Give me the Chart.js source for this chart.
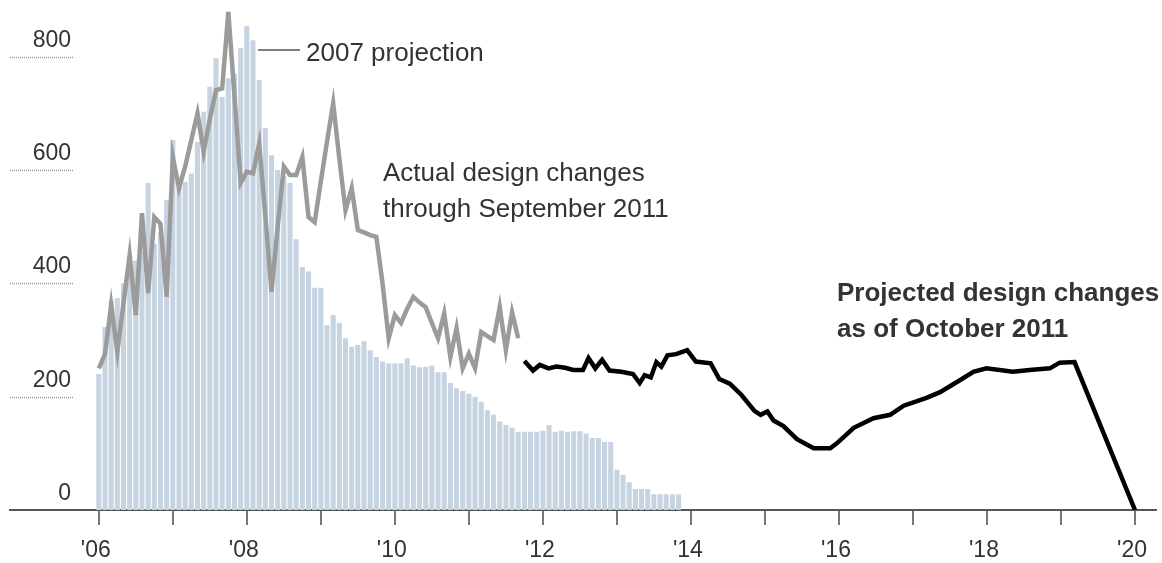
<!DOCTYPE html>
<html>
<head>
<meta charset="utf-8">
<script src="https://cdn.jsdelivr.net/npm/chart.js@4.4.0/dist/chart.umd.min.js"></script>
<style>
  html, body { margin: 0; padding: 0; background: #ffffff; }
  #design-chart { display: block; }
</style>
</head>
<body>
<canvas id="design-chart" width="1162" height="563"></canvas>
<script>
const FONT = '"Liberation Sans", Arial, sans-serif';
const TEXT_COLOR = "#333333";

// 2007 projection, one bar per month starting Jan 2006
const projection2007 = [
  240, 323, 370, 374, 400, 420, 440, 455, 577, 470, 490, 547,
  653, 570, 579, 594, 650, 703, 747, 797, 729, 762, 770, 815,
  854, 829, 759, 674, 626, 600, 590, 577, 478, 429, 421, 392,
  392, 326, 344, 330, 303, 288, 291, 298, 282, 270, 262, 259,
  259, 259, 268, 255, 252, 253, 255, 243, 243, 224, 215, 210,
  205, 200, 191, 176, 168, 156, 150, 145, 138, 138, 138, 138,
  140, 150, 138, 140, 138, 139, 139, 135, 127, 127, 120, 120,
  71, 62, 49, 37, 37, 37, 28, 28, 28, 28, 28,
];

// actual design changes, monthly Jan 2006 - Sep 2011
const actualChanges = [
  250, 275, 362, 279, 365, 450, 344, 524, 383, 517, 505, 376,
  623, 568, 606, 653, 700, 632, 690, 741, 744, 879, 730, 577,
  597, 594, 647, 520, 385, 500, 606, 591, 591, 623, 517, 508,
  580, 650, 718, 620, 529, 568, 494, 490, 485, 482, 400, 303,
  344, 330, 355, 376, 366, 358, 330, 303, 347, 270, 321, 250,
  276, 250, 314, 307, 300, 358, 282, 349, 303,
];

// projection as of Oct 2011: months after Jan 2006, and values
const projectedMonths = [
  69, 70.4, 71.5, 72.9, 74.2, 75.6, 76.9, 78.5, 79.4, 80.5, 81.6, 82.8,
  84.7, 86.6, 87.7, 88.5, 89.5, 90.4, 91.2, 92.2, 93.6, 95.4, 96.8, 99.2,
  100.6, 102.3, 104.2, 106.3, 107.3, 108.4, 109.4, 111, 113.2, 115.9, 118.6, 119.7,
  122.4, 125.6, 128.3, 130.5, 134.2, 136.4, 139.6, 141.8, 143.9, 148.2, 150.9, 154.2,
  155.8, 158.2, 168,
];
const projectedChanges = [
  263, 246, 256, 250, 253, 251, 247, 247, 268, 250, 265, 246,
  244, 240, 224, 238, 234, 261, 253, 273, 275, 282, 262, 259,
  231, 223, 203, 175, 168, 174, 158, 148, 125, 109, 109, 118,
  145, 162, 168, 184, 198, 208, 229, 244, 250, 244, 247, 250,
  260, 261, 0,
];

const yearTicks = [2006, 2007, 2008, 2009, 2010, 2011, 2012, 2013, 2014, 2015, 2016, 2017, 2018, 2019, 2020];
const valueTicks = [0, 200, 400, 600, 800];

const monthToYear = (m) => 2006 + m / 12;

// value labels with short dotted guides, plus the text notes
const notesPlugin = {
  id: "notes",
  afterDraw(chart) {
    const { ctx } = chart;
    const y = chart.scales.y;
    ctx.save();

    ctx.font = `23px ${FONT}`;
    ctx.fillStyle = TEXT_COLOR;
    ctx.textAlign = "right";
    ctx.textBaseline = "alphabetic";
    valueTicks.forEach((v) => {
      const py = y.getPixelForValue(v);
      ctx.fillText(String(v), 71, py - 10);
      if (v > 0) {
        ctx.beginPath();
        ctx.setLineDash([1, 1]);
        ctx.strokeStyle = "#999999";
        ctx.lineWidth = 1.5;
        ctx.moveTo(10, Math.round(py) + 0.5);
        ctx.lineTo(74, Math.round(py) + 0.5);
        ctx.stroke();
        ctx.setLineDash([]);
      }
    });

    // leader for the bar series
    ctx.beginPath();
    ctx.strokeStyle = "#555555";
    ctx.lineWidth = 1.5;
    ctx.moveTo(258, 50);
    ctx.lineTo(300, 50);
    ctx.stroke();

    ctx.textAlign = "left";
    ctx.font = `26px ${FONT}`;
    ctx.fillText("2007 projection", 306, 61);
    ctx.fillText("Actual design changes", 383, 181);
    ctx.fillText("through September 2011", 383, 217);

    ctx.font = `bold 26px ${FONT}`;
    ctx.fillText("Projected design changes", 837, 301);
    ctx.fillText("as of October 2011", 837, 337);

    ctx.restore();
  },
};

const canvas = document.getElementById("design-chart");

new Chart(canvas, {
  type: "bar",
  data: {
    datasets: [
      {
        type: "line",
        label: "Projected design changes",
        data: projectedMonths.map((m, i) => ({ x: monthToYear(m), y: projectedChanges[i] })),
        borderColor: "#000000",
        borderWidth: 4.5,
        pointRadius: 0,
        tension: 0,
        fill: false,
        order: 0,
      },
      {
        type: "line",
        label: "Actual design changes",
        data: actualChanges.map((v, i) => ({ x: monthToYear(i), y: v })),
        borderColor: "#9b9b9b",
        borderWidth: 4.5,
        pointRadius: 0,
        tension: 0,
        fill: false,
        order: 1,
      },
      {
        type: "bar",
        label: "2007 projection",
        data: projection2007.map((v, i) => ({ x: monthToYear(i), y: v })),
        backgroundColor: "#c6d3e1",
        borderWidth: 0,
        categoryPercentage: 1,
        barPercentage: 0.82,
        order: 2,
      },
    ],
  },
  options: {
    responsive: false,
    animation: false,
    devicePixelRatio: 1,
    layout: { padding: { left: 10, right: 2, top: 0, bottom: 0 } },
    plugins: {
      legend: { display: false },
      tooltip: { enabled: false },
    },
    scales: {
      x: {
        type: "linear",
        min: 2004.8,
        max: 2020.28,
        offset: false,
        z: 1,
        border: { color: "#555555", width: 2 },
        grid: {
          offset: false,
          drawOnChartArea: false,
          drawTicks: true,
          tickLength: 15,
          color: "#777777",
          lineWidth: 2,
        },
        ticks: {
          autoSkip: false,
          maxRotation: 0,
          padding: 12,
          labelOffset: -3,
          color: TEXT_COLOR,
          font: { family: FONT, size: 23 },
          callback: (v) => (v % 2 === 0 ? "'" + String(v).slice(2) : ""),
        },
        afterBuildTicks: (scale) => {
          scale.ticks = yearTicks.map((v) => ({ value: v }));
        },
        afterFit: (scale) => {
          scale.height = 53;
        },
      },
      y: {
        display: false,
        min: 0,
        max: 900,
      },
    },
  },
  plugins: [notesPlugin],
});
</script>
</body>
</html>
